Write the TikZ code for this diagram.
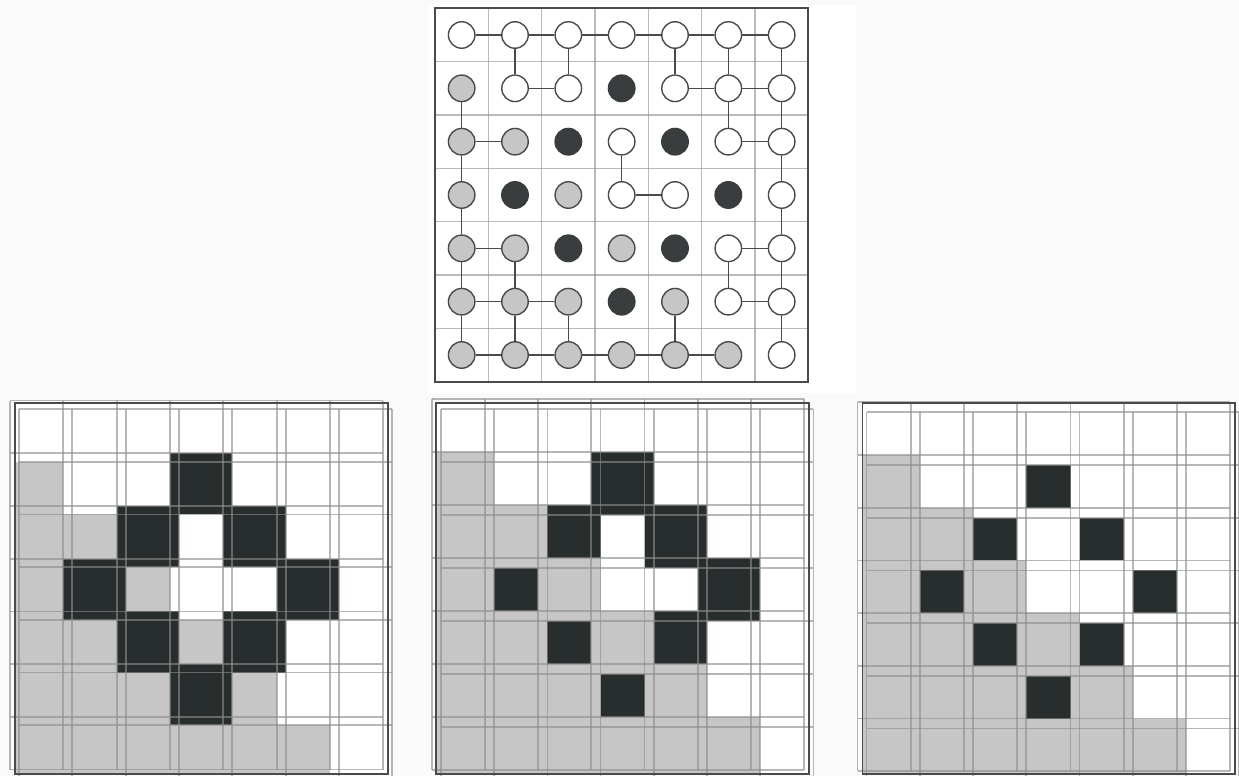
\documentclass[tikz,border=0pt]{standalone}
\definecolor{bgc}{HTML}{FAFAFA}
\definecolor{greyfill}{HTML}{C6C6C6}
\definecolor{blackfill}{HTML}{272E2D}
\definecolor{circblack}{HTML}{393D3E}
\definecolor{gridl}{HTML}{8C8C8C}
\definecolor{framec}{HTML}{4A4A4A}
\colorlet{cw}{white}
\colorlet{cg}{greyfill}
\colorlet{cb}{circblack}
\colorlet{dw}{framec}
\colorlet{dg}{framec}
\colorlet{db}{circblack}
\tikzset{
  circnode/.style={circle, line width=1.4pt, minimum size=26.5pt, inner sep=0pt},
  conn/.style={draw=framec, line width=1.2pt},
  gline/.style={draw=gridl, line width=1.7pt, opacity=0.62},
  topline/.style={draw=gridl, line width=1.5pt, opacity=0.6},
  frame/.style={draw=framec, line width=1.8pt},
}
\begin{document}
\begin{tikzpicture}[x=1pt,y=-1pt]
\useasboundingbox (0,0) rectangle (1239,776);
\fill[bgc] (0,0) rectangle (1239,776);
\fill[white] (428,5) rectangle (856,393);

% ---------- top grid ----------
\foreach \i in {1,...,6} {
  \draw[topline] ({435+\i*53.333},8.3) -- ++(0,373.3);
  \draw[topline] (435,{8.3+\i*53.333}) -- ++(373.3,0);
}
\draw[frame] (435,8.3) rectangle (808.3,381.6);

\foreach \t [count=\i from 0] in {
  w,w,w,w,w,w,w,
  g,w,w,b,w,w,w,
  g,g,b,w,b,w,w,
  g,b,g,w,w,b,w,
  g,g,b,g,b,w,w,
  g,g,g,b,g,w,w,
  g,g,g,g,g,g,w} {
  \pgfmathtruncatemacro{\r}{floor(\i/7)}
  \pgfmathtruncatemacro{\c}{mod(\i,7)}
  \node[circnode, fill=c\t, draw=d\t] (n\r\c) at ({461.67+53.333*\c},{35+53.333*\r}) {};
}
% horizontal connectors
\foreach \r/\c in {0/0,0/1,0/2,0/3,0/4,0/5,
                   1/1,1/4,1/5,
                   2/0,2/5,
                   3/3,
                   4/0,4/5,
                   5/0,5/1,5/5,
                   6/0,6/1,6/2,6/3,6/4} {
  \pgfmathtruncatemacro{\cc}{\c+1}
  \draw[conn] (n\r\c) -- (n\r\cc);
}
% vertical connectors
\foreach \r/\c in {0/1,0/2,0/4,0/5,0/6,
                   1/0,1/5,1/6,
                   2/0,2/3,2/6,
                   3/0,3/6,
                   4/0,4/1,4/5,4/6,
                   5/0,5/1,5/2,5/4,5/6} {
  \pgfmathtruncatemacro{\rr}{\r+1}
  \draw[conn] (n\r\c) -- (n\rr\c);
}

% ---------- panel 1 ----------
\begin{scope}
\def\pax{10}\def\pbx{19}\def\pdx{53.33}
\def\pay{400.6}\def\pby{409}\def\pdy{52.7}
\begin{scope}
\clip (15,403) rectangle (388,774);
\fill[white] (15,403) rectangle (388,774);
\foreach \r/\c in {1/0,2/0,2/1,3/0,3/2,4/0,4/1,4/3,5/0,5/1,5/2,5/4,6/0,6/1,6/2,6/3,6/4,6/5}
  \fill[greyfill] ({\pax+\c*\pdx},{\pby+\r*\pdy}) rectangle ({\pax+(\c+1)*\pdx},{\pby+(\r+1)*\pdy});
\foreach \r/\c in {1/3,2/2,2/4,3/1,3/5,4/2,4/4,5/3}
  \fill[blackfill] ({\pax+\c*\pdx},{\pay+\r*\pdy}) rectangle ({\pbx+(\c+1)*\pdx},{\pby+(\r+1)*\pdy});
\end{scope}
\foreach \i in {0,...,7} {
  \draw[gline] ({\pax+\i*\pdx},\pay) -- ({\pax+\i*\pdx},{\pay+7*\pdy});
  \draw[gline] (\pax,{\pay+\i*\pdy}) -- ({\pax+7*\pdx},{\pay+\i*\pdy});
  \draw[gline] ({\pbx+\i*\pdx},\pby) -- ({\pbx+\i*\pdx},{\pby+7*\pdy});
  \draw[gline] (\pbx,{\pby+\i*\pdy}) -- ({\pbx+7*\pdx},{\pby+\i*\pdy});
}
\draw[frame] (15,403) rectangle (388,774);
\end{scope}

% ---------- panel 2 ----------
\begin{scope}
\def\pax{431.7}\def\pbx{441}\def\pdx{53.2}
\def\pay{398.7}\def\pby{408.7}\def\pdy{53}
\begin{scope}
\clip (436.3,403) rectangle (808.8,774);
\fill[white] (436.3,403) rectangle (808.8,774);
\foreach \r/\c in {1/3,2/2,2/4,3/1,3/5,4/2,4/4,5/3}
  \fill[blackfill] ({\pax+\c*\pdx},{\pay+\r*\pdy}) rectangle ({\pbx+(\c+1)*\pdx},{\pby+(\r+1)*\pdy});
\foreach \r/\c in {1/0,2/0,2/1,3/0,3/2,4/0,4/1,4/3,5/0,5/1,5/2,5/4,6/0,6/1,6/2,6/3,6/4,6/5}
  \fill[greyfill] ({\pax+\c*\pdx},{\pay+\r*\pdy}) rectangle ({\pbx+(\c+1)*\pdx},{\pby+(\r+1)*\pdy});
\end{scope}
\foreach \i in {0,...,7} {
  \draw[gline] ({\pax+\i*\pdx},\pay) -- ({\pax+\i*\pdx},{\pay+7*\pdy});
  \draw[gline] (\pax,{\pay+\i*\pdy}) -- ({\pax+7*\pdx},{\pay+\i*\pdy});
  \draw[gline] ({\pbx+\i*\pdx},\pby) -- ({\pbx+\i*\pdx},{\pby+7*\pdy});
  \draw[gline] (\pbx,{\pby+\i*\pdy}) -- ({\pbx+7*\pdx},{\pby+\i*\pdy});
}
\draw[frame] (436.3,403) rectangle (808.8,774);
\end{scope}

% ---------- panel 3 ----------
\begin{scope}
\def\pax{857.5}\def\pbx{866.5}\def\pdx{53.25}
\def\pay{402.3}\def\pby{412.3}\def\pdy{52.7}
\begin{scope}
\clip (862.5,403) rectangle (1235,774);
\fill[white] (862.5,403) rectangle (1235,774);
\foreach \r/\c in {1/0,2/0,2/1,3/0,3/2,4/0,4/1,4/3,5/0,5/1,5/2,5/4,6/0,6/1,6/2,6/3,6/4,6/5}
  \fill[greyfill] ({\pax+\c*\pdx},{\pay+\r*\pdy}) rectangle ({\pbx+(\c+1)*\pdx},{\pby+(\r+1)*\pdy});
\foreach \r/\c in {1/3,2/2,2/4,3/1,3/5,4/2,4/4,5/3}
  \fill[blackfill] ({\pbx+\c*\pdx},{\pby+\r*\pdy}) rectangle ({\pax+(\c+1)*\pdx},{\pay+(\r+1)*\pdy});
\end{scope}
\foreach \i in {0,...,7} {
  \draw[gline] ({\pax+\i*\pdx},\pay) -- ({\pax+\i*\pdx},{\pay+7*\pdy});
  \draw[gline] (\pax,{\pay+\i*\pdy}) -- ({\pax+7*\pdx},{\pay+\i*\pdy});
  \draw[gline] ({\pbx+\i*\pdx},\pby) -- ({\pbx+\i*\pdx},{\pby+7*\pdy});
  \draw[gline] (\pbx,{\pby+\i*\pdy}) -- ({\pbx+7*\pdx},{\pby+\i*\pdy});
}
\draw[frame] (862.5,403) rectangle (1235,774);
\end{scope}
\end{tikzpicture}
\end{document}
